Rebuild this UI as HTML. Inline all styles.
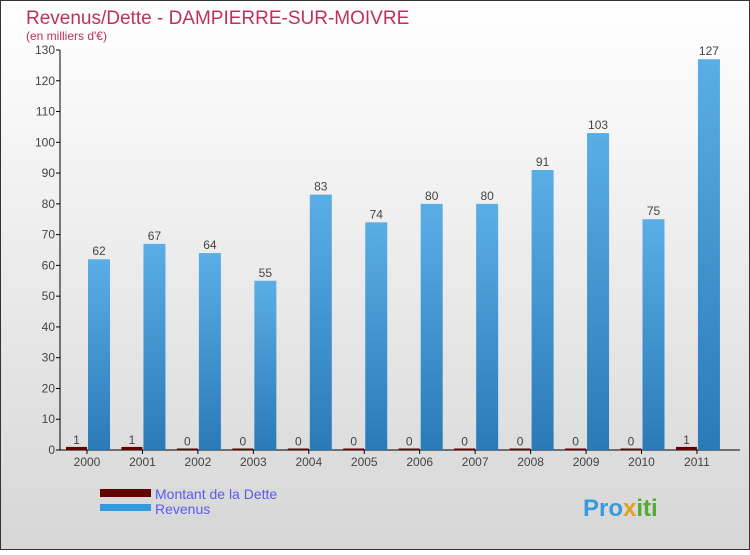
<!DOCTYPE html>
<html><head><meta charset="utf-8"><style>
html,body{margin:0;padding:0}
body{width:750px;height:550px;overflow:hidden;font-family:"Liberation Sans",sans-serif}
</style></head><body>
<svg width="750" height="550" viewBox="0 0 750 550">
<defs>
<linearGradient id="bg" x1="0" y1="0" x2="0" y2="1"><stop offset="0" stop-color="#ffffff"/><stop offset="1" stop-color="#d6d6d6"/></linearGradient>
<linearGradient id="blue" x1="0" y1="0" x2="0" y2="1"><stop offset="0" stop-color="#5aaee6"/><stop offset="1" stop-color="#2a7ab8"/></linearGradient>
</defs>
<rect x="0.5" y="0.5" width="749" height="549" fill="url(#bg)" stroke="#333"/>
<text x="26" y="24" font-size="19" fill="#c0305a">Revenus/Dette - DAMPIERRE-SUR-MOIVRE</text>
<text x="26" y="40" font-size="12" fill="#c0305a">(en milliers d'€)</text>
<g id="axes"></g>
<g id="bars"></g>
<rect x="100" y="489" width="51" height="8" fill="#650000"/>
<text x="155" y="499" font-size="14" fill="#5a5aee">Montant de la Dette</text>
<rect x="100" y="504" width="51" height="7" fill="#3399dd"/>
<text x="155" y="514" font-size="14" fill="#5a5aee">Revenus</text>
<text x="583" y="516" font-size="24" font-weight="bold" fill="#3a9ad9">Pro<tspan fill="#e0a020">x</tspan><tspan fill="#55aa33">iti</tspan></text>
</svg>
<script>
const categories=["2000","2001","2002","2003","2004","2005","2006","2007","2008","2009","2010","2011"];
const dette=[1,1,0,0,0,0,0,0,0,0,0,1];
const revenus=[62,67,64,55,83,74,80,80,91,103,75,127];
const yTicks=[0,10,20,30,40,50,60,70,80,90,100,110,120,130];
const NS="http://www.w3.org/2000/svg";
const y0=450,yTop=50,yMax=130;
function y(v){return y0-(v/yMax)*(y0-yTop);}
function xc(i){return 87+i*55.45;}
function mk(tag,attrs,parent){const e=document.createElementNS(NS,tag);for(const k in attrs)e.setAttribute(k,attrs[k]);parent.appendChild(e);return e;}
const ax=document.getElementById('axes'),bg=document.getElementById('bars');
let a=mk('line',{x1:60,y1:50,x2:60,y2:450,stroke:'#000'},ax);


a=mk('line',{x1:60,y1:450,x2:740,y2:450,stroke:'#000'},ax);


yTicks.forEach(t=>{
 const l=mk('line',{x1:56,y1:y(t),x2:60,y2:y(t),stroke:'#000'},ax);
 
 
 const tx=mk('text',{x:55,y:y(t)+4,'font-size':12,fill:'#444','text-anchor':'end'},ax);
 tx.textContent=t;
 
 
});
categories.forEach((c,i)=>{
 const cx=xc(i);
 const tk=mk('line',{x1:cx,y1:450,x2:cx,y2:454,stroke:'#000'},ax);
 
 
 const lb=mk('text',{x:cx,y:466,'font-size':12,fill:'#444','text-anchor':'middle'},ax);
 lb.textContent=c;
 
 
 const dh=Math.max(y0-y(dette[i]),1.5);
 const r=mk('rect',{x:cx-21,y:y0-dh,width:21,height:dh,fill:'#650000'},bg);
 
 
 const dl=mk('text',{x:cx-10.5,y:y0-dh-3,'font-size':12,fill:'#444','text-anchor':'middle'},bg);
 dl.textContent=dette[i];
 
 
 const b=mk('rect',{x:cx+1,y:y(revenus[i]),width:22,height:y0-y(revenus[i]),fill:'url(#blue)'},bg);
 
 
 const bl=mk('text',{x:cx+12,y:y(revenus[i])-4,'font-size':12,fill:'#444','text-anchor':'middle'},bg);
 bl.textContent=revenus[i];
 
 
});
</script>
</body></html>
